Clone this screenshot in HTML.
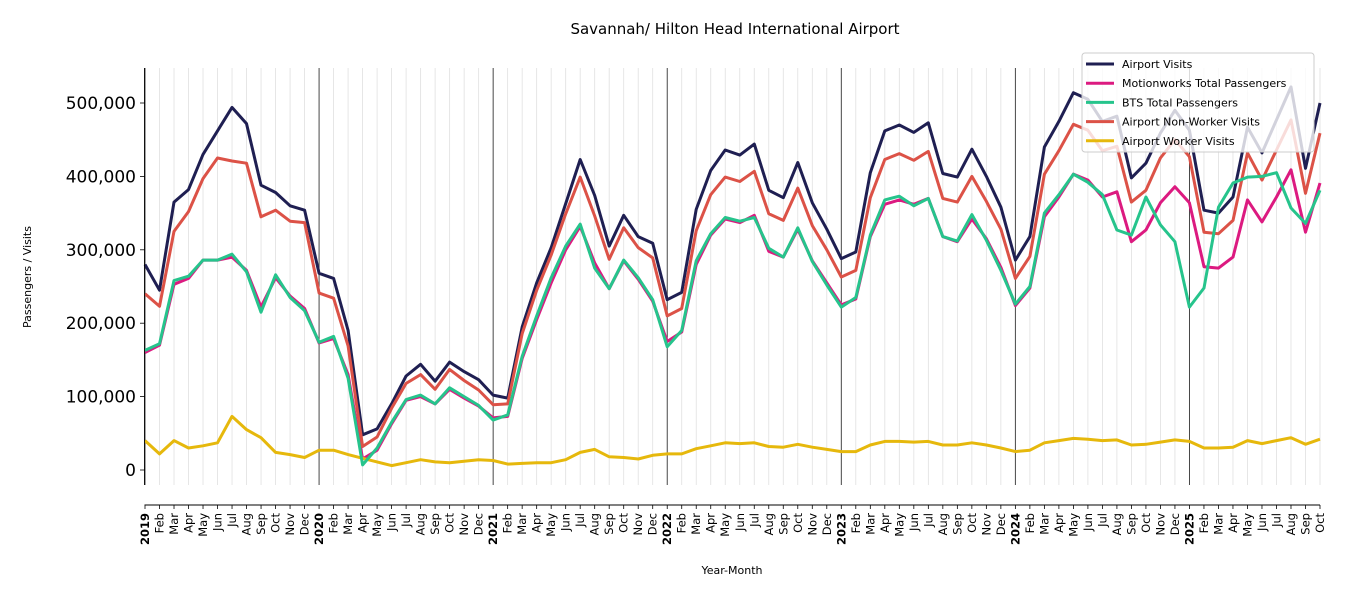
<!DOCTYPE html>
<html><head><meta charset="utf-8"><style>
body{margin:0;background:#fff;font-family:"DejaVu Sans","Liberation Sans",sans-serif}
svg{display:block}
</style></head><body>
<svg id="chart" width="1350" height="600" viewBox="0 0 1350 600" xmlns="http://www.w3.org/2000/svg" font-family="DejaVu Sans, Liberation Sans, sans-serif">
<text x="735" y="34" text-anchor="middle" font-size="15">Savannah/ Hilton Head International Airport</text>
<g id="grid"></g>
<g id="series"></g>
<g id="axes"></g>
<text transform="translate(31,277) rotate(-90)" text-anchor="middle" font-size="11">Passengers / Visits</text>
<text x="732" y="574" text-anchor="middle" font-size="11">Year-Month</text>
<g id="legend"></g>
</svg>
<script>
const years = [2019,2020,2021,2022,2023,2024,2025];
const monthNames = ["Jan","Feb","Mar","Apr","May","Jun","Jul","Aug","Sep","Oct","Nov","Dec"];
const yTicks = [0,100000,200000,300000,400000,500000];
const yTickLabels = ["0","100,000","200,000","300,000","400,000","500,000"];
const airportVisits = [280,245,365,382,430,462,494,472,388,378,360,354, 268,261,190,48,56,90,128,144,121,147,134,123, 102,98,195,255,303,363,423,374,305,347,318,309, 232,242,355,408,436,429,444,381,371,419,364,328, 288,297,405,462,470,460,473,404,399,437,400,358, 286,318,440,475,514,505,475,482,398,418,459,490, 463,354,350,372,467,432,477,522,411,500];
const motionworks = [160,170,253,261,286,286,290,272,222,262,237,220, 173,179,130,15,27,63,95,100,90,110,98,87, 71,73,152,205,255,300,332,282,247,285,260,230, 175,188,280,320,342,337,347,298,290,328,285,255, 225,233,318,362,368,362,370,318,311,342,315,276, 224,248,345,372,403,395,372,379,311,327,364,386, 364,277,275,290,368,338,372,409,324,391];
const bts = [163,172,258,264,286,286,294,270,215,266,235,217, 174,182,125,7,30,65,96,102,90,112,100,88, 68,75,155,210,262,305,335,275,247,286,262,232, 168,190,285,322,344,339,344,302,290,330,284,252, 222,235,320,368,373,360,370,318,312,348,313,272, 226,250,350,375,403,392,375,327,320,372,334,311, 222,248,358,391,399,400,405,357,336,381];
const nonWorker = [240,223,325,352,397,425,421,418,345,354,339,337, 241,234,169,32,45,84,118,130,110,137,122,109, 89,90,186,245,293,349,399,346,287,330,303,289, 210,220,326,375,399,393,407,349,340,384,333,300, 263,272,371,423,431,422,434,370,365,400,366,328, 261,291,403,435,471,463,435,441,365,381,425,450, 427,324,322,340,432,395,436,477,377,459];
const worker = [40,22,40,30,33,37,73,55,44,24,21,17, 27,27,21,16,11,6,10,14,11,10,12,14, 13,8,9,10,10,14,24,28,18,17,15,20, 22,22,29,33,37,36,37,32,31,35,31,28, 25,25,34,39,39,38,39,34,34,37,34,30, 25,27,37,40,43,42,40,41,34,35,38,41, 39,30,30,31,40,36,40,44,35,42];
const seriesNames = ["Airport Visits","Motionworks Total Passengers","BTS Total Passengers","Airport Non-Worker Visits","Airport Worker Visits"];
const seriesColors = ["#1f1f52","#dc1a80","#26c48c","#dc5247","#e6b80c"];
const seriesData = [airportVisits,motionworks,bts,nonWorker,worker];
const seriesKeys = ["airport-visits","motionworks-passengers","bts-passengers","non-worker-visits","worker-visits"];

const NS="http://www.w3.org/2000/svg";
const X0=145, X1=1320, Y0=470, PXPER100K=73.4, AXB=485, AXT=68, XSP=505;
const nMonths = airportVisits.length;
const xs = i => X0 + (X1-X0)*i/(nMonths-1);
const ys = v => Y0 - v*PXPER100K/100000;
function mk(tag, attrs, parent){const e=document.createElementNS(NS,tag);for(const k in attrs)e.setAttribute(k,attrs[k]);parent.appendChild(e);return e;}
const grid=document.getElementById('grid'), axes=document.getElementById('axes'), ser=document.getElementById('series'), leg=document.getElementById('legend');

for(let i=0;i<nMonths;i++){
  const x=xs(i), isYear=i%12===0;
  const l=mk('line',{x1:x,x2:x,y1:AXT,y2:AXB,stroke:isYear?'#333':'#e0e0e0','stroke-width':isYear?0.9:0.8},grid);
  
  
  const t=mk('line',{x1:x,x2:x,y1:XSP,y2:XSP+4,stroke:'#000','stroke-width':0.8},axes);
  
  
  const lab = isYear ? String(years[i/12]) : monthNames[i%12];
  const tx=mk('text',{transform:`translate(${x+4},${XSP+8}) rotate(-90)`,'text-anchor':'end','font-size':isYear?11.5:11.5,'font-weight':isYear?'bold':'normal'},axes);
  tx.textContent=lab;
  
  
}
yTicks.forEach((v,i)=>{
  const y=ys(v);
  const t=mk('line',{x1:X0-5,x2:X0,y1:y,y2:y,stroke:'#000','stroke-width':0.8},axes);
  
  
  const tx=mk('text',{x:X0-9,y:y+6,'text-anchor':'end','font-size':17},axes);
  tx.textContent=yTickLabels[i];
  
  
});
const sl=mk('line',{x1:X0-0.5,x2:X0-0.5,y1:AXT,y2:AXB,stroke:'#000','stroke-width':0.9},axes);


const sb=mk('line',{x1:X0-0.5,x2:X1,y1:XSP,y2:XSP,stroke:'#000','stroke-width':0.9},axes);



seriesData.forEach((d,s)=>{
  const pts=d.map((v,i)=>xs(i).toFixed(1)+','+ys(v*1000).toFixed(1)).join(' ');
  const p=mk('polyline',{points:pts,fill:'none',stroke:seriesColors[s],'stroke-width':3,'stroke-linejoin':'round'},ser);
  
  
});
ser.appendChild(ser.children[2]);

const bg=mk('rect',{x:1082,y:53,width:232,height:99,rx:3,fill:'rgba(255,255,255,0.8)',stroke:'#ccc','stroke-width':1},leg);


seriesNames.forEach((n,s)=>{
  const y=64+s*19.2;
  const g=mk('g',{},leg);
  
  
  mk('line',{x1:1086,x2:1114,y1:y,y2:y,stroke:seriesColors[s],'stroke-width':3},g);
  const t=mk('text',{x:1122,y:y+4,'font-size':11},g);
  t.textContent=n;
});
</script>
</body></html>
